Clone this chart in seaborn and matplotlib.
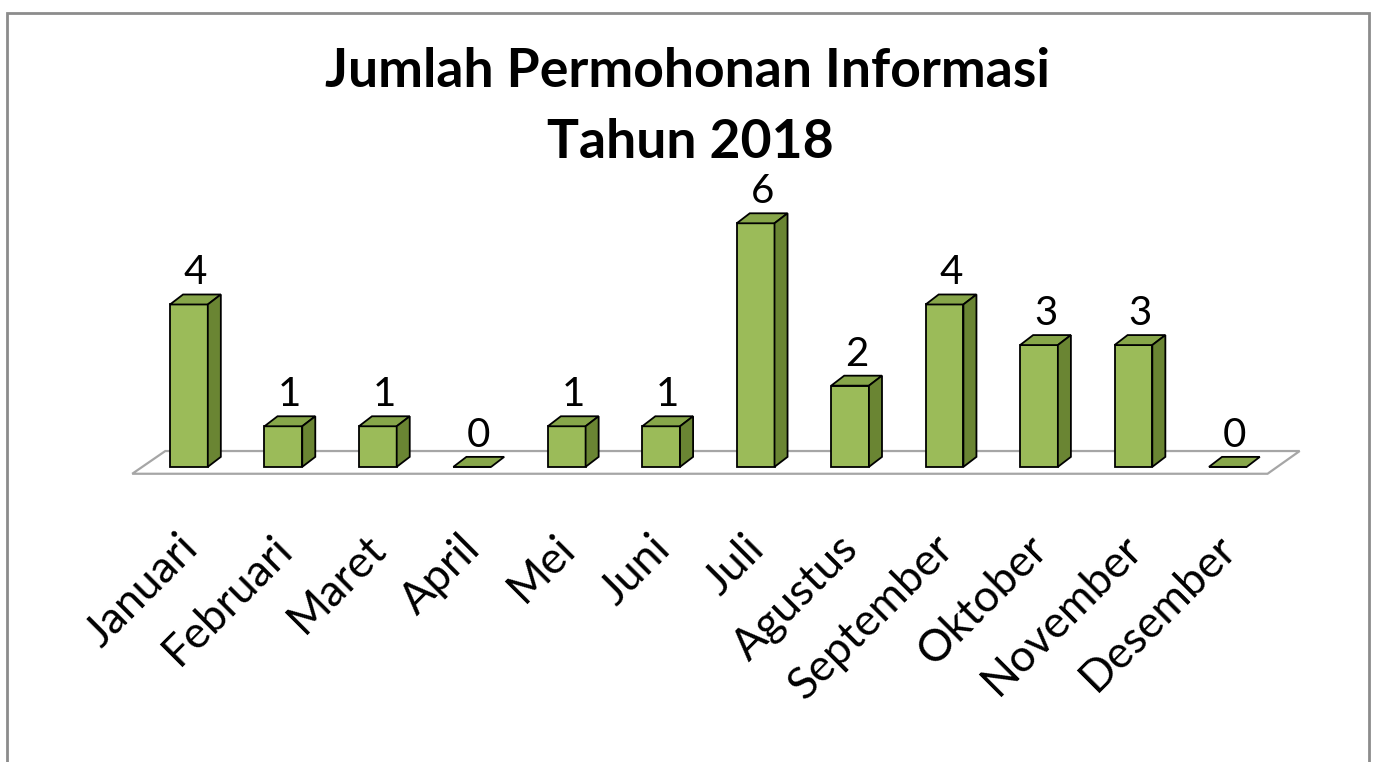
import matplotlib
matplotlib.use('Agg')
import matplotlib.pyplot as plt
import seaborn as sns
import pandas as pd
from matplotlib.patches import Polygon, Rectangle

bulan = ['Januari', 'Februari', 'Maret', 'April', 'Mei', 'Juni', 'Juli',
         'Agustus', 'September', 'Oktober', 'November', 'Desember']
jumlah = [4, 1, 1, 0, 1, 1, 6, 2, 4, 3, 3, 0]
judul_1 = 'Jumlah Permohonan Informasi'
judul_2 = 'Tahun 2018'

warna_depan = '#9BBB59'
warna_atas = '#87A64A'
warna_samping = '#6A8533'

sns.set_style('white')
plt.rcParams['font.family'] = ['Lato', 'DejaVu Sans']
plt.rcParams['text.color'] = 'black'

fig = plt.figure(figsize=(13.79, 7.62), dpi=100)
ax = fig.add_axes([0, 0, 1, 1])

df = pd.DataFrame({'Bulan': bulan, 'Jumlah': jumlah})
sns.barplot(data=df, x='Bulan', y='Jumlah', color=warna_depan, saturation=1,
            width=0.4, edgecolor='black', linewidth=1.3, ax=ax, zorder=4)

ax.set_xlim(-2.0, 12.6)
ax.set_ylim(-7.27, 11.5)
ax.axis('off')

# kedalaman efek 3D (dalam satuan data)
dx, dy = 0.138, 0.246

# lantai
lantai = Polygon([(-0.60, -0.17), (11.42, -0.17), (11.76, 0.39), (-0.25, 0.39)],
                 closed=True, facecolor='white', edgecolor='#a6a6a6', lw=1.6, zorder=1)
ax.add_patch(lantai)

for p, v in zip(ax.patches, jumlah):
    x0, w, h = p.get_x(), p.get_width(), p.get_height()
    atas = Polygon([(x0, h), (x0 + w, h), (x0 + w + dx, h + dy), (x0 + dx, h + dy)],
                   closed=True, facecolor=warna_atas, edgecolor='black', lw=1.3, zorder=5)
    ax.add_patch(atas)
    if h > 0:
        samping = Polygon([(x0 + w, 0), (x0 + w + dx, dy), (x0 + w + dx, h + dy), (x0 + w, h)],
                          closed=True, facecolor=warna_samping, edgecolor='black', lw=1.3, zorder=5)
        ax.add_patch(samping)
    ax.text(x0 + w / 2 + dx / 2, h + dy + 0.25, str(v), ha='center', va='baseline',
            fontsize=29, color='black')

for i, nama in enumerate(bulan):
    ax.text(i + 0.02, -1.85, nama, rotation=45, ha='right', va='center',
            rotation_mode='anchor', fontsize=32, color='black')

fig.text(0.4985, 1 - 87 / 762, judul_1, ha='center', va='baseline',
         fontsize=38.5, fontweight='bold', color='black')
fig.text(0.5005, 1 - 158 / 762, judul_2, ha='center', va='baseline',
         fontsize=38.5, fontweight='bold', color='black')

bingkai = Rectangle((7 / 1379, -0.05), (1369 - 7) / 1379, 1.05 - 13 / 762,
                    transform=fig.transFigure, fill=False, edgecolor='#8c8c8c', lw=2)
fig.patches.append(bingkai)

plt.savefig('out.png', dpi=100)
plt.close()
